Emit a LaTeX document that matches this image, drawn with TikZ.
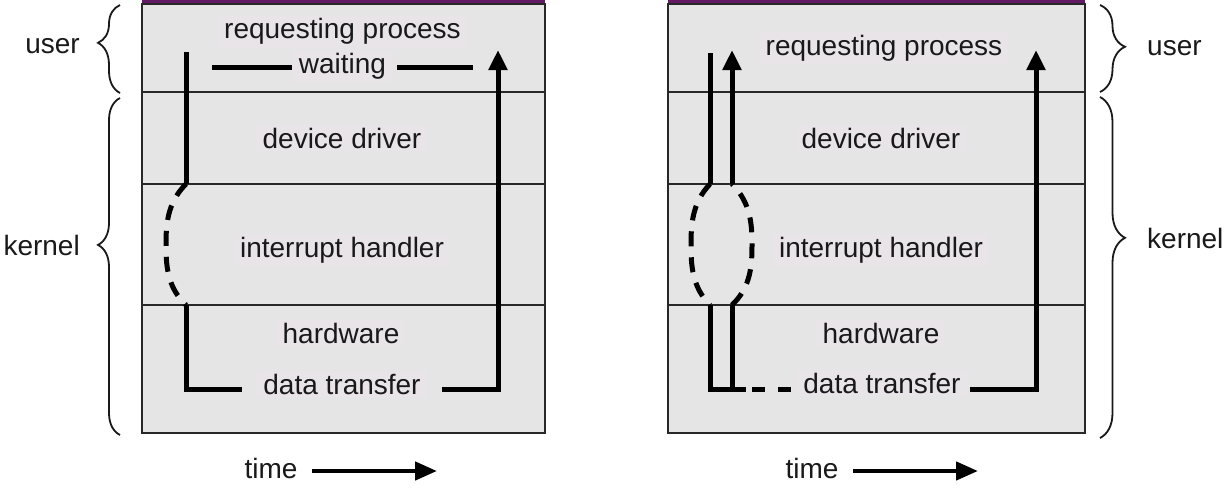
\documentclass[tikz,border=0pt]{standalone}
\usepackage{fontspec}
\setmainfont{Liberation Sans}
\usetikzlibrary{arrows.meta,decorations.pathreplacing}
\definecolor{boxfill}{RGB}{229,229,229}
\definecolor{textbg}{RGB}{232,228,231}
\definecolor{edge}{RGB}{40,40,40}
\definecolor{topline}{RGB}{100,25,100}
\definecolor{ink}{RGB}{25,25,25}
\begin{document}
\begin{tikzpicture}[x=1pt,y=-1pt,
  lbl/.style={font=\fontsize{28}{32}\selectfont, text=ink, inner xsep=6pt, inner ysep=3pt, fill=textbg, anchor=base},
  side/.style={font=\fontsize{28}{32}\selectfont, text=ink, inner sep=0pt},
  flow/.style={line width=5pt, line cap=butt, line join=miter, draw=black},
  tipv/.style={-{Triangle[length=20pt,width=18pt]}},
  tiph/.style={-{Triangle[length=22pt,width=18pt]}},
  dashflow/.style={line width=5pt, draw=black, dash pattern=on 15pt off 11pt},
  brc/.style={decorate, line width=1.8pt, draw=ink},
  frame/.style={draw=edge, line width=1.5pt, fill=boxfill},
  div/.style={draw=edge, line width=1.5pt},
  purp/.style={draw=topline, line width=3pt}]
\useasboundingbox (0,0) rectangle (1224,496);
\fill[white] (0,0) rectangle (1224,496);

% ---------- left panel ----------
\draw[frame] (142,4) rectangle (545,433);
\draw[div] (142,92) -- (545,92);
\draw[div] (142,184) -- (545,184);
\draw[div] (142,305) -- (545,305);
\draw[purp] (142,1.5) -- (545,1.5);

\node[lbl] (lreq)  at (342.5,38) {requesting process};
\node[lbl] (lwait) at (342.5,73) {waiting};
\node[lbl] (ldev)  at (342,148) {device driver};
\node[lbl] (lint)  at (342,257) {interrupt handler};
\node[lbl] (lhw)   at (341,343) {hardware};
\node[lbl] (ldata) at (342,394) {data transfer};

\draw[flow] (212,67) -- (292,67);
\draw[flow] (397,67) -- (473,67);

\draw[flow] (186,52) -- (186,184);
\draw[dashflow] (186,184) .. controls (167,203) and (166,225) .. (166,245)
                          .. controls (166,265) and (167,287) .. (186,305);
\draw[flow] (186,305) -- (186,389) -- (242,389);
\draw[flow,tipv] (442,389) -- (498,389) -- (498,50);

% ---------- right panel ----------
\draw[frame] (668,4) rectangle (1085,433);
\draw[div] (668,92) -- (1085,92);
\draw[div] (668,184) -- (1085,184);
\draw[div] (668,305) -- (1085,305);
\draw[purp] (668,1.5) -- (1085,1.5);

\node[lbl] (rreq)  at (884,55) {requesting process};
\node[lbl] (rdev)  at (881,148) {device driver};
\node[lbl] (rint)  at (881,257) {interrupt handler};
\node[lbl] (rhw)   at (881,343) {hardware};
\node[lbl] (rdata) at (882,393) {data transfer};

\draw[flow] (710,53) -- (710,184);
\draw[dashflow] (710,184) .. controls (692,203) and (691,225) .. (691,245)
                          .. controls (691,265) and (692,287) .. (710,305);
\draw[flow] (710,305) -- (710,389) -- (746,389);
\draw[flow] (732,389) -- (732,305);
\draw[dashflow] (732,305) .. controls (751,287) and (752,265) .. (752,245)
                          .. controls (752,225) and (751,203) .. (732,184);
\draw[flow,tipv] (732,184) -- (732,50);
\draw[flow] (752,389) -- (765,389);
\draw[flow] (778,389) -- (791,389);
\draw[flow,tipv] (970,389) -- (1036,389) -- (1036,50);

% ---------- braces ----------
\draw[brc, decoration={brace, amplitude=22pt, aspect=0.57}] (120,93) -- (120,5);
\draw[brc, decoration={brace, amplitude=22pt, aspect=0.564}] (120,435) -- (120,98);
\draw[brc, decoration={brace, amplitude=25pt, aspect=0.48}] (1100,5) -- (1100,92);
\draw[brc, decoration={brace, amplitude=25pt, aspect=0.413}] (1100,97) -- (1100,438);

\node[side, anchor=base east] (lu) at (80,53) {user};
\node[side, anchor=base east] (lk) at (80,255) {kernel};
\node[side, anchor=base west] (ru) at (1147,55) {user};
\node[side, anchor=base west] (rk) at (1147,248) {kernel};

% ---------- time arrows ----------
\node[side, anchor=base] (t1) at (271,478) {time};
\draw[flow, line width=4.5pt, tiph] (312,471) -- (437,471);
\node[side, anchor=base] (t2) at (812,478) {time};
\draw[flow, line width=4.5pt, tiph] (853,471) -- (978,471);
\end{tikzpicture}
\end{document}
